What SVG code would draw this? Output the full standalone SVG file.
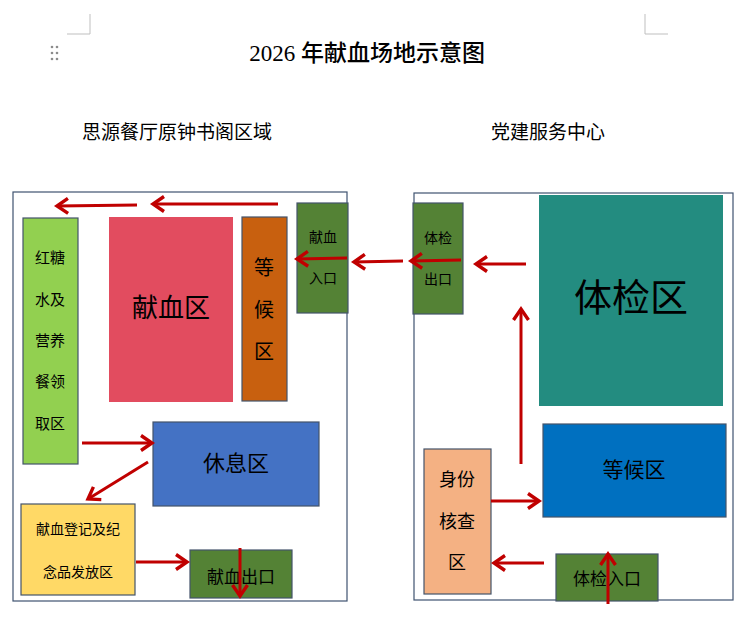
<svg xmlns="http://www.w3.org/2000/svg" width="741" height="622" viewBox="0 0 741 622">
<style>
text{font-family:"Liberation Serif","Noto Sans CJK SC",serif;fill:#000;text-anchor:middle;dominant-baseline:central}
.box{stroke:#44546a;stroke-width:1.2}
.area{fill:none;stroke:#3f5370;stroke-width:1.2}
.arr{stroke:#c00000;stroke-width:3;fill:none;marker-end:url(#ah)}
.crop{stroke:#bfbfbf;stroke-width:1;fill:none}
</style>
<defs>
<marker id="ah" markerUnits="userSpaceOnUse" markerWidth="22" markerHeight="22" viewBox="-15 -11 22 22" refX="0" refY="0" orient="auto">
<path d="M-11,-7.5 L0,0 L-11,7.5" fill="none" stroke="#c00000" stroke-width="3.4"/>
</marker>
</defs>
<rect width="741" height="622" fill="#fff"/>
<g id="page-marks">
<path class="crop" d="M90,14 V34 H67"/>
<path class="crop" d="M645,14 V34 H668"/>
<g fill="#8c8c8c">
<circle cx="52" cy="47" r="1.3"/><circle cx="57" cy="47" r="1.3"/>
<circle cx="52" cy="53" r="1.3"/><circle cx="57" cy="53" r="1.3"/>
<circle cx="52" cy="59" r="1.3"/><circle cx="57" cy="59" r="1.3"/>
</g>
</g>
<g id="title"><text x="367" y="53" font-size="23" font-weight="500">2026 年献血场地示意图</text></g>
<g id="area-left">
<text x="177" y="132" font-size="19">思源餐厅原钟书阁区域</text>
<rect class="area" x="13" y="192" width="334" height="409"/>
</g>
<g id="area-right">
<text x="548" y="132" font-size="19">党建服务中心</text>
<rect class="area" x="414" y="193" width="319" height="407"/>
</g>
<g id="n-nutrition">
<rect class="box" x="23" y="218" width="55" height="246" fill="#92d050"/>
<text x="50" y="258" font-size="15">红糖</text>
<text x="50" y="300" font-size="15">水及</text>
<text x="50" y="341" font-size="15">营养</text>
<text x="50" y="382" font-size="15">餐领</text>
<text x="50" y="424" font-size="15">取区</text>
</g>
<g id="n-donation">
<rect x="109" y="217" width="124" height="185" fill="#e24c5f"/>
<text x="171" y="308" font-size="26">献血区</text>
</g>
<g id="n-wait-left">
<rect class="box" x="242" y="217" width="45" height="184" fill="#c8600f"/>
<text x="264" y="268" font-size="20">等</text>
<text x="264" y="310" font-size="20">候</text>
<text x="264" y="352" font-size="20">区</text>
</g>
<g id="n-donation-entry">
<rect class="box" x="297" y="203" width="51" height="110" fill="#548235"/>
<text x="323" y="237" font-size="14">献血</text>
<text x="323" y="278" font-size="14">入口</text>
</g>
<g id="n-rest">
<rect class="box" x="153" y="422" width="166" height="84" fill="#4472c4"/>
<text x="236" y="463" font-size="22">休息区</text>
</g>
<g id="n-register">
<rect class="box" x="21" y="504" width="114" height="91" fill="#ffd966"/>
<text x="78" y="529" font-size="14">献血登记及纪</text>
<text x="78" y="572" font-size="14">念品发放区</text>
</g>
<g id="n-donation-exit">
<rect class="box" x="190" y="550" width="102" height="48" fill="#548235"/>
<text x="241" y="577" font-size="17">献血出口</text>
</g>
<g id="n-exam-exit">
<rect class="box" x="413" y="203" width="50" height="111" fill="#548235"/>
<text x="438" y="238" font-size="14">体检</text>
<text x="438" y="279" font-size="14">出口</text>
</g>
<g id="n-exam">
<rect x="539" y="195" width="184" height="211" fill="#238c80"/>
<text x="631" y="298" font-size="38">体检区</text>
</g>
<g id="n-wait-right">
<rect class="box" x="543" y="424" width="183" height="93" fill="#0070c0"/>
<text x="634" y="470" font-size="21">等候区</text>
</g>
<g id="n-id-check">
<rect class="box" x="424" y="449" width="67" height="145" fill="#f4b183"/>
<text x="457" y="480" font-size="18">身份</text>
<text x="457" y="522" font-size="18">核查</text>
<text x="457" y="563" font-size="18">区</text>
</g>
<g id="n-exam-entry">
<rect class="box" x="556" y="554" width="102" height="47" fill="#548235"/>
<text x="607" y="579" font-size="17">体检入口</text>
</g>
<g id="connectors">
<line class="arr" x1="137" y1="205" x2="57" y2="206"/>
<line class="arr" x1="278" y1="204" x2="153" y2="204"/>
<line class="arr" x1="347" y1="258" x2="297" y2="259"/>
<line class="arr" x1="403" y1="261" x2="354" y2="262"/>
<line class="arr" x1="461" y1="260" x2="411" y2="261"/>
<line class="arr" x1="526" y1="264" x2="476" y2="264"/>
<line class="arr" x1="521" y1="464" x2="521" y2="309"/>
<line class="arr" x1="491" y1="501" x2="539" y2="501"/>
<line class="arr" x1="544" y1="563" x2="494" y2="563"/>
<line class="arr" x1="608" y1="604" x2="608" y2="554"/>
<line class="arr" x1="82" y1="443" x2="152" y2="443"/>
<line class="arr" x1="148" y1="462" x2="88" y2="499"/>
<line class="arr" x1="136" y1="562" x2="187" y2="562"/>
<line class="arr" x1="240" y1="548" x2="240" y2="596"/>
</g>
</svg>
